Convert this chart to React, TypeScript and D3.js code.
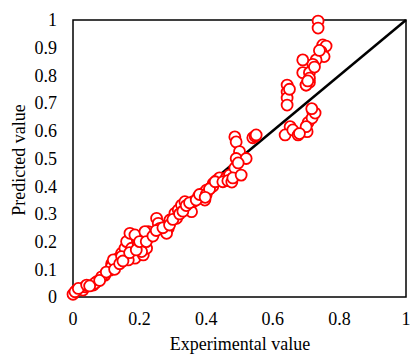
import React from "react";
import * as d3 from "d3";

const experimental: number[] = [
  0.0, 0.011, 0.03, 0.036, 0.061, 0.071, 0.096, 0.086, 0.111, 0.116, 0.131, 0.136, 0.146, 0.156, 0.161,
  0.171, 0.186, 0.176, 0.181, 0.201, 0.201, 0.186, 0.166, 0.211, 0.221, 0.231, 0.226, 0.251, 0.256, 0.261,
  0.286, 0.281, 0.291, 0.306, 0.316, 0.311, 0.326, 0.336, 0.356, 0.361, 0.376, 0.391, 0.396, 0.411, 0.421,
  0.401, 0.006, 0.066, 0.116, 0.121, 0.146, 0.196, 0.206, 0.216, 0.016, 0.041,
  0.05, 0.08, 0.1, 0.125, 0.14, 0.15, 0.17, 0.19, 0.2, 0.22, 0.24, 0.25, 0.27, 0.29, 0.3, 0.32, 0.33,
  0.34, 0.35, 0.37, 0.38, 0.4, 0.42, 0.43, 0.44, 0.46, 0.47,
  0.41, 0.427, 0.45, 0.465, 0.397, 0.477,
  0.486, 0.49, 0.5, 0.49, 0.52, 0.486, 0.48, 0.496, 0.505,
  0.54, 0.547, 0.55,
  0.643, 0.643, 0.643, 0.643, 0.70, 0.71, 0.65,
  0.652, 0.637, 0.66, 0.676, 0.703, 0.706, 0.72, 0.718, 0.727, 0.70, 0.717, 0.68,
  0.75, 0.76, 0.745, 0.754, 0.73, 0.72, 0.69, 0.69, 0.71, 0.71, 0.70, 0.705, 0.74, 0.725,
  0.736, 0.736,
];

const predicted: number[] = [
  0.01, 0.025, 0.025, 0.037, 0.043, 0.055, 0.079, 0.073, 0.097, 0.12, 0.127, 0.14, 0.158, 0.176, 0.2,
  0.23, 0.224, 0.176, 0.158, 0.164, 0.194, 0.14, 0.134, 0.152, 0.176, 0.218, 0.236, 0.284, 0.266, 0.248,
  0.248, 0.23, 0.278, 0.302, 0.314, 0.284, 0.332, 0.344, 0.308, 0.344, 0.362, 0.374, 0.35, 0.392, 0.41,
  0.386, 0.019, 0.05, 0.11, 0.134, 0.146, 0.188, 0.164, 0.236, 0.031, 0.043,
  0.04, 0.06, 0.09, 0.1, 0.12, 0.13, 0.16, 0.17, 0.2, 0.2, 0.22, 0.24, 0.25, 0.26, 0.28, 0.3, 0.31,
  0.33, 0.34, 0.35, 0.37, 0.37, 0.4, 0.42, 0.43, 0.43, 0.44,
  0.39, 0.416, 0.416, 0.42, 0.36, 0.415,
  0.578, 0.56, 0.525, 0.50, 0.50, 0.466, 0.43, 0.484, 0.44,
  0.575, 0.58, 0.585,
  0.765, 0.74, 0.718, 0.693, 0.765, 0.775, 0.75,
  0.615, 0.585, 0.603, 0.585, 0.597, 0.63, 0.67, 0.646, 0.664, 0.615, 0.68, 0.59,
  0.91, 0.906, 0.886, 0.868, 0.856, 0.84, 0.856, 0.81, 0.81, 0.79, 0.765, 0.78, 0.89, 0.83,
  0.996, 0.971,
];

const xTicks: number[] = [0, 0.2, 0.4, 0.6, 0.8, 1];
const yTicks: number[] = [0, 0.1, 0.2, 0.3, 0.4, 0.5, 0.6, 0.7, 0.8, 0.9, 1];
const lineData: [number, number][] = [[0, 0], [1, 1]];

export default function App() {
  const W = 411, H = 354;
  const left = 73, right = 406, top = 20, bottom = 297;
  const x = d3.scaleLinear().domain([0, 1]).range([left, right]);
  const y = d3.scaleLinear().domain([0, 1]).range([bottom, top]);
  const line = d3.line<[number, number]>().x(d => x(d[0])).y(d => y(d[1]));
  const font = "'Liberation Serif', 'Times New Roman', serif";
  const fmt = (v: number) => (v === 0 ? "0" : v === 1 ? "1" : String(v));
  return (
    <svg width={W} height={H} style={{ position: "absolute", left: 0, top: 0, background: "#fff" }}>
      <rect x={left} y={top} width={right - left} height={bottom - top} fill="#fff" stroke="#000" strokeWidth={1.5} />
      <path d={line(lineData) || ""} stroke="#000" strokeWidth={2.5} fill="none" />
      {experimental.map((e, i) => (
        <circle key={i} cx={x(e)} cy={y(predicted[i])} r={5.5} fill="#fff" stroke="#ff0000" strokeWidth={1.8} />
      ))}
      {yTicks.map(t => (
        <text key={"y" + t} x={57} y={y(t)} dy="0.35em" textAnchor="end" fontFamily={font} fontSize={18} fill="#000">
          {fmt(t)}
        </text>
      ))}
      {xTicks.map(t => (
        <text key={"x" + t} x={x(t)} y={325} textAnchor="middle" fontFamily={font} fontSize={18} fill="#000">
          {fmt(t)}
        </text>
      ))}
      <text x={240} y={350} textAnchor="middle" fontFamily={font} fontSize={18} fill="#000">Experimental value</text>
      <text transform={`translate(25,160) rotate(-90)`} textAnchor="middle" fontFamily={font} fontSize={18} fill="#000">Predicted value</text>
    </svg>
  );
}
